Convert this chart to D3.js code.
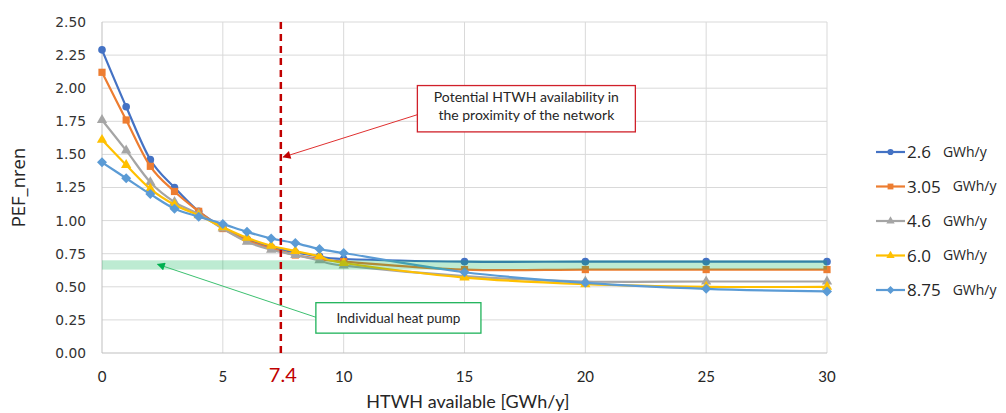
<!DOCTYPE html>
<html lang="en">
<head>
  <meta charset="UTF-8">
  <title>PEF_nren vs HTWH available</title>
  <style>
    body {
      margin: 0;
      background: #fff;
      font-family: Lato, "Open Sans", sans-serif;
    }
    svg { display: block; }
  </style>
</head>
<body>
  <svg id="chart" width="1006" height="413"></svg>
  <script src="https://d3js.org/d3.v7.min.js"></script>
  <script>
    // HTWH available [GWh/y]
    const htwh = [0, 1, 2, 3, 4, 5, 6, 7, 8, 9, 10, 15, 20, 25, 30];

    // PEF_nren per network demand
    const pef26  = [2.29, 1.86, 1.46, 1.25, 1.07, 0.95, 0.86, 0.80, 0.76, 0.73, 0.71, 0.69, 0.69, 0.69, 0.69];
    const pef305 = [2.12, 1.76, 1.41, 1.22, 1.07, 0.94, 0.85, 0.79, 0.74, 0.71, 0.69, 0.63, 0.63, 0.63, 0.63];
    const pef46  = [1.76, 1.53, 1.29, 1.14, 1.05, 0.94, 0.84, 0.78, 0.74, 0.70, 0.66, 0.58, 0.54, 0.54, 0.54];
    const pef60  = [1.61, 1.42, 1.24, 1.12, 1.04, 0.95, 0.87, 0.81, 0.77, 0.73, 0.68, 0.57, 0.52, 0.50, 0.50];
    const pef875 = [1.44, 1.32, 1.20, 1.09, 1.03, 0.975, 0.915, 0.865, 0.83, 0.785, 0.755, 0.61, 0.53, 0.485, 0.465];

    const seriesLabels = ['2.6', '3.05', '4.6', '6.0', '8.75'];
    const seriesValues = [pef26, pef305, pef46, pef60, pef875];
    const seriesColors = ['#4472c4', '#ed7d31', '#a5a5a5', '#ffc000', '#5b9bd5'];
    const seriesMarkers = ['circle', 'square', 'triangle', 'triangle', 'diamond'];

    const xTicks = [0, 5, 10, 15, 20, 25, 30];
    const yTicks = [0, 0.25, 0.5, 0.75, 1, 1.25, 1.5, 1.75, 2, 2.25, 2.5];

    const heatPumpBand = [0.63, 0.70];
    const htwhProximity = 7.4;

    const svg = d3.select('#chart');
    const margin = { left: 102, right: 179, top: 22, bottom: 60 };
    const width = 1006, height = 413;

    const x = d3.scaleLinear().domain([0, 30]).range([margin.left, width - margin.right]);
    const y = d3.scaleLinear().domain([0, 2.5]).range([height - margin.bottom, margin.top]);

    // marker shapes, diamond = rotated square like Excel
    function markerPath(kind, scale) {
      const k = scale || 1;
      if (kind === 'circle') return d3.symbol().type(d3.symbolCircle).size(46 * k)();
      if (kind === 'square') return d3.symbol().type(d3.symbolSquare).size(52 * k)();
      if (kind === 'triangle') return d3.symbol().type(d3.symbolTriangle).size(46 * k)();
      const r = 5 * Math.sqrt(k);
      return `M0,${-r}L${r},0L0,${r}L${-r},0Z`;
    }

    // grid
    svg.append('g').selectAll('line')
      .data(yTicks.filter(d => d > 0))
      .enter().append('line')
        .attr('x1', x(0)).attr('x2', x(30))
        .attr('y1', d => y(d)).attr('y2', d => y(d))
        .attr('stroke', '#d9d9d9').attr('stroke-width', 1);
    svg.append('g').selectAll('line')
      .data(xTicks.filter(d => d > 0))
      .enter().append('line')
        .attr('x1', d => x(d)).attr('x2', d => x(d))
        .attr('y1', y(0)).attr('y2', y(2.5))
        .attr('stroke', '#d9d9d9').attr('stroke-width', 1);

    // axis lines
    svg.append('line')
      .attr('x1', x(0)).attr('x2', x(0)).attr('y1', y(0)).attr('y2', y(2.5))
      .attr('stroke', '#bfbfbf');
    svg.append('line')
      .attr('x1', x(0)).attr('x2', x(30)).attr('y1', y(0)).attr('y2', y(0))
      .attr('stroke', '#bfbfbf');

    // tick labels
    svg.append('g').selectAll('text')
      .data(yTicks)
      .enter().append('text')
        .attr('x', 86).attr('y', d => y(d))
        .attr('dy', '0.36em')
        .attr('text-anchor', 'end')
        .style('font-family', '"DejaVu Sans", sans-serif')
        .style('font-size', '13.8px')
        .attr('fill', '#333')
        .text(d => d.toFixed(2));
    svg.append('g').selectAll('text')
      .data(xTicks)
      .enter().append('text')
        .attr('x', d => x(d)).attr('y', 382)
        .attr('text-anchor', 'middle')
        .style('font-size', '15px')
        .attr('fill', '#262626')
        .text(d => d);

    // axis titles
    svg.append('text')
      .attr('x', 468).attr('y', 407.5)
      .attr('text-anchor', 'middle')
      .style('font-size', '18px')
      .attr('fill', '#262626')
      .text('HTWH available [GWh/y]');
    svg.append('text')
      .attr('transform', `translate(18,${(y(0) + y(2.5)) / 2}) rotate(-90)`)
      .attr('dy', '0.36em')
      .attr('text-anchor', 'middle')
      .style('font-family', '"Open Sans", sans-serif')
      .style('font-size', '18.5px')
      .attr('fill', '#262626')
      .text('PEF_nren');

    // series
    const line = d3.line()
      .x((d, i) => x(htwh[i]))
      .y(d => y(d))
      .curve(d3.curveCardinal.tension(0));

    seriesValues.forEach((vals, s) => {
      const g = svg.append('g');
      g.append('path')
        .attr('d', line(vals))
        .attr('fill', 'none')
        .attr('stroke', seriesColors[s])
        .attr('stroke-width', 2.2);
      g.selectAll('path.m')
        .data(vals)
        .enter().append('path')
          .attr('class', 'm')
          .attr('transform', (d, i) => `translate(${x(htwh[i])},${y(d)})`)
          .attr('d', markerPath(seriesMarkers[s]))
          .attr('fill', seriesColors[s]);
    });

    // heat pump band
    svg.append('rect')
      .attr('x', x(0)).attr('width', x(30) - x(0))
      .attr('y', y(heatPumpBand[1])).attr('height', y(heatPumpBand[0]) - y(heatPumpBand[1]))
      .attr('fill', 'rgba(0,176,80,0.26)');

    // HTWH proximity line
    svg.append('line')
      .attr('x1', x(htwhProximity)).attr('x2', x(htwhProximity))
      .attr('y1', y(2.5)).attr('y2', y(0))
      .attr('stroke', '#c00000').attr('stroke-width', 2.5)
      .attr('stroke-dasharray', '7,5');
    svg.append('text')
      .attr('x', x(htwhProximity) + 2).attr('y', 382)
      .attr('text-anchor', 'middle')
      .style('font-size', '20px')
      .attr('fill', '#c00000')
      .text('7.4');

    // arrow markers
    const defs = svg.append('defs');
    [['arrRed', '#c00000'], ['arrGreen', '#00b050']].forEach(([id, c]) => {
      defs.append('marker')
        .attr('id', id)
        .attr('viewBox', '0 0 10 10')
        .attr('refX', 9).attr('refY', 5)
        .attr('markerWidth', 10).attr('markerHeight', 8)
        .attr('markerUnits', 'userSpaceOnUse')
        .attr('orient', 'auto')
        .append('path').attr('d', 'M0,0 L10,5 L0,10 z').attr('fill', c);
    });

    // annotation: HTWH availability
    const redBox = { x0: 13.05, x1: 22.07, y0: 2.02, y1: 1.67 };
    svg.append('line')
      .attr('x1', x(redBox.x0)).attr('y1', y(1.80))
      .attr('x2', x(7.5)).attr('y2', y(1.48))
      .attr('stroke', '#e03030').attr('stroke-width', 1)
      .attr('marker-end', 'url(#arrRed)');
    svg.append('rect')
      .attr('x', x(redBox.x0)).attr('y', y(redBox.y0))
      .attr('width', x(redBox.x1) - x(redBox.x0)).attr('height', y(redBox.y1) - y(redBox.y0))
      .attr('fill', '#fff').attr('stroke', '#d0202a').attr('stroke-width', 1.3);
    const redText = svg.append('text')
      .attr('text-anchor', 'middle')
      .style('font-size', '14px')
      .attr('fill', '#262626');
    redText.append('tspan').attr('x', x((redBox.x0 + redBox.x1) / 2)).attr('y', y(1.895)).text('Potential HTWH availability in');
    redText.append('tspan').attr('x', x((redBox.x0 + redBox.x1) / 2)).attr('y', y(1.76)).text('the proximity of the network');

    // annotation: individual heat pump
    const greenBox = { x0: 8.85, x1: 15.68, y0: 0.38, y1: 0.15 };
    svg.append('line')
      .attr('x1', x(greenBox.x0)).attr('y1', y(0.27))
      .attr('x2', x(2.3)).attr('y2', y(0.67))
      .attr('stroke', '#3cc070').attr('stroke-width', 1)
      .attr('marker-end', 'url(#arrGreen)');
    svg.append('rect')
      .attr('x', x(greenBox.x0)).attr('y', y(greenBox.y0))
      .attr('width', x(greenBox.x1) - x(greenBox.x0)).attr('height', y(greenBox.y1) - y(greenBox.y0))
      .attr('fill', '#fff').attr('stroke', '#1fb35a').attr('stroke-width', 1.3);
    svg.append('text')
      .attr('x', x((greenBox.x0 + greenBox.x1) / 2)).attr('y', y(0.265))
      .attr('dy', '0.36em')
      .attr('text-anchor', 'middle')
      .style('font-size', '13.5px')
      .attr('fill', '#262626')
      .text('Individual heat pump');

    // legend
    const legend = svg.append('g');
    seriesLabels.forEach((lab, s) => {
      const ly = 152 + s * 34.5;
      legend.append('line')
        .attr('x1', 876).attr('x2', 905).attr('y1', ly).attr('y2', ly)
        .attr('stroke', seriesColors[s]).attr('stroke-width', 2.2);
      legend.append('path')
        .attr('transform', `translate(890.5,${ly})`)
        .attr('d', markerPath(seriesMarkers[s], 0.65))
        .attr('fill', seriesColors[s]);
      const t = legend.append('text')
        .attr('x', 907).attr('y', ly)
        .attr('dy', '0.38em')
        .style('font-family', '"Open Sans", sans-serif')
        .attr('fill', '#262626');
      t.append('tspan').style('font-size', '17px').text(lab);
      t.append('tspan').attr('dx', 12).attr('dy', '-0.1em').style('font-size', '14px').text('GWh/y');
    });
  </script>
</body>
</html>
